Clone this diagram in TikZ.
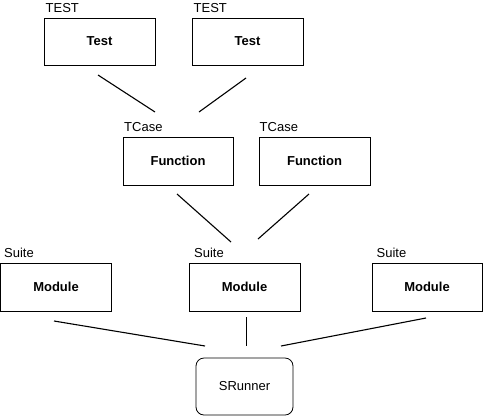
\documentclass[tikz,border=0pt]{standalone}
\usepackage{fontspec}
\setmainfont{Liberation Sans}
\usetikzlibrary{positioning}

\begin{document}
\begin{tikzpicture}
    [x=1pt,y=-1pt,font=\fontsize{13}{15}\selectfont,
     box/.style={draw, line width=0.8pt, minimum width=111pt, minimum height=48pt, inner sep=0pt, font=\fontsize{13}{15}\selectfont\bfseries},
     tag/.style={anchor=base west, inner sep=0pt},
     link/.style={line width=1.1pt}]
  \useasboundingbox (0,0) rectangle (484,416);
  \node[box, minimum height=47pt] (test1) at (99.5,41.5) {Test};
  \node[box, minimum height=47pt] (test2) at (247.5,41.5) {Test};
  \node[box, minimum width=110pt] (func1) at (178,161) {Function};
  \node[box] (func2) at (314.5,161) {Function};
  \node[box] (mod1) at (56,287) {Module};
  \node[box] (mod2) at (244.5,287) {Module};
  \node[box, minimum width=110pt] (mod3) at (427,287) {Module};
  \node[box, font=\fontsize{13}{15}\selectfont, rounded corners=8pt, minimum width=97pt, minimum height=57pt] (runner) at (244.5,386.5) {SRunner};

  \node[tag] (test1lab) at (45.5,12) {TEST};
  \node[tag] (test2lab) at (193.5,12) {TEST};
  \node[tag] (func1lab) at (124,131) {TCase};
  \node[tag] (func2lab) at (259.5,131) {TCase};
  \node[tag] (mod1lab) at (4,257) {Suite};
  \node[tag] (mod2lab) at (194,257) {Suite};
  \node[tag] (mod3lab) at (376.5,257) {Suite};

  \coordinate (t1) at (98,75);   \coordinate (t1f) at (155,112);
  \coordinate (t2) at (246,78);  \coordinate (t2f) at (199,112);
  \coordinate (f1) at (177,194); \coordinate (f1m) at (231,242);
  \coordinate (f2) at (309,194); \coordinate (f2m) at (258,239);
  \coordinate (m1) at (54,321);  \coordinate (m1r) at (205,346);
  \coordinate (m2) at (246.5,317); \coordinate (m2r) at (246.5,346);
  \coordinate (m3) at (426,318); \coordinate (m3r) at (281,346);

  \foreach \from/\to in {t1/t1f, t2/t2f, f1/f1m, f2/f2m, m1/m1r, m3/m3r}
    \draw[link] (\from) -- (\to);
  \draw[line width=0.8pt] (m2) -- (m2r);
\end{tikzpicture}
\end{document}
